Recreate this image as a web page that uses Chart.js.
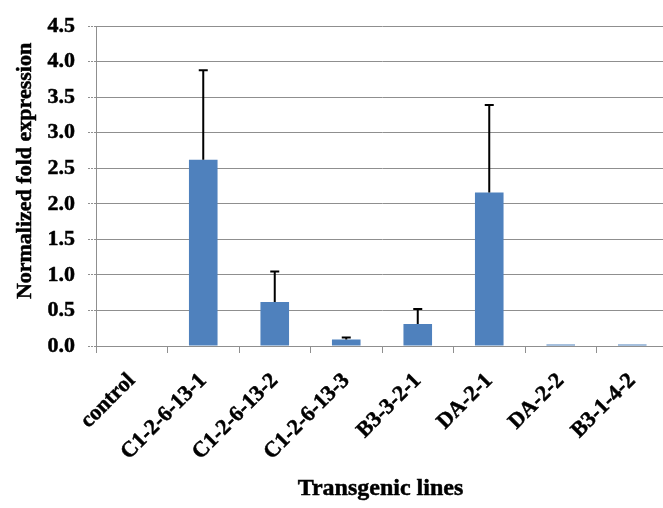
<!DOCTYPE html>
<html>
<head>
<meta charset="utf-8">
<script src="https://cdn.jsdelivr.net/npm/chart.js@4/dist/chart.umd.min.js"></script>
<style>
  html, body { margin: 0; padding: 0; background: #fff; overflow: hidden; }
  canvas { display: block; }
</style>
</head>
<body>
<canvas id="chart" width="672" height="508"></canvas>
<script>
// Transgenic lines and their normalized fold expression (mean and upper error)
const lines = ['control', 'C1-2-6-13-1', 'C1-2-6-13-2', 'C1-2-6-13-3', 'B3-3-2-1', 'DA-2-1', 'DA-2-2', 'B3-1-4-2'];
const foldExpression = [0, 2.62, 0.62, 0.09, 0.31, 2.16, 0.02, 0.02];
const errorUp = [0, 1.26, 0.43, 0.03, 0.21, 1.23, 0, 0];
const yMax = 4.5;
const yStep = 0.5;

const xTitle = 'Transgenic lines';
const yTitle = 'Normalized fold expression';

const FONT = '"Liberation Serif", "Times New Roman", serif';
const GRID = '#8f8f8f';

// Upward error bars with a cap, positioned from the value scale
const errorBars = {
  id: 'errorBars',
  afterDatasetsDraw(chart) {
    const meta = chart.getDatasetMeta(0);
    const y = chart.scales.y;
    const ctx = chart.ctx;
    ctx.save();
    ctx.strokeStyle = '#000';
    ctx.lineWidth = 2;
    meta.data.forEach((bar, i) => {
      const e = errorUp[i];
      if (!e) return;
      const yBase = y.getPixelForValue(foldExpression[i]);
      const yTop = y.getPixelForValue(foldExpression[i] + e);
      ctx.beginPath();
      ctx.moveTo(bar.x, yBase);
      ctx.lineTo(bar.x, yTop);
      ctx.moveTo(bar.x - 4.5, yTop);
      ctx.lineTo(bar.x + 4.5, yTop);
      ctx.stroke();
    });
    ctx.restore();
  }
};

// Axis titles: x centred under the plot area, y running up the left edge
const axisTitles = {
  id: 'axisTitles',
  afterDraw(chart) {
    const ctx = chart.ctx;
    const area = chart.chartArea;
    ctx.save();
    ctx.fillStyle = '#000';
    ctx.strokeStyle = '#000';
    ctx.lineWidth = 0.5;
    ctx.textAlign = 'center';
    ctx.textBaseline = 'alphabetic';
    ctx.font = 'bold 24px ' + FONT;
    const xc = (area.left + area.right) / 2 - 1.5;
    ctx.fillText(xTitle, xc, 495);
    ctx.strokeText(xTitle, xc, 495);
    ctx.font = 'bold 22px ' + FONT;
    ctx.translate(31, 171);
    ctx.rotate(-Math.PI / 2);
    ctx.fillText(yTitle, 0, 0);
    ctx.strokeText(yTitle, 0, 0);
    ctx.restore();
  }
};

const tickFont = { family: FONT, size: 22, weight: 'bold' };

new Chart(document.getElementById('chart'), {
  type: 'bar',
  data: {
    labels: lines,
    datasets: [{
      data: foldExpression,
      backgroundColor: '#4F81BD',
      borderWidth: 0,
      barPercentage: 0.4,
      categoryPercentage: 1.0
    }]
  },
  options: {
    responsive: false,
    devicePixelRatio: 1,
    animation: false,
    layout: { padding: { top: 26, right: 4, bottom: 0, left: 0 } },
    plugins: {
      legend: { display: false },
      tooltip: { enabled: false }
    },
    scales: {
      x: {
        offset: true,
        grid: {
          offset: true,
          drawOnChartArea: false,
          drawTicks: true,
          tickLength: 7,
          color: GRID,
          lineWidth: 1
        },
        border: { display: true, color: GRID, width: 1 },
        ticks: {
          autoSkip: false,
          minRotation: 45,
          maxRotation: 45,
          padding: 15,
          color: '#000',
          textStrokeColor: '#000',
          textStrokeWidth: 0.5,
          font: tickFont
        },
        afterFit(scale) { scale.height = 162; }
      },
      y: {
        min: 0,
        max: yMax,
        grid: {
          color: GRID,
          lineWidth: 1,
          borderDash: [2, 1],
          drawTicks: true,
          tickLength: 8,
          tickBorderDash: [2, 1],
          tickColor: GRID
        },
        border: { display: true, color: GRID, width: 1 },
        ticks: {
          stepSize: yStep,
          padding: 13,
          color: '#000',
          textStrokeColor: '#000',
          textStrokeWidth: 0.5,
          font: tickFont,
          callback: (v) => Number(v).toFixed(1)
        },
        afterFit(scale) { scale.width = 96; }
      }
    }
  },
  plugins: [errorBars, axisTitles]
});
</script>
</body>
</html>
